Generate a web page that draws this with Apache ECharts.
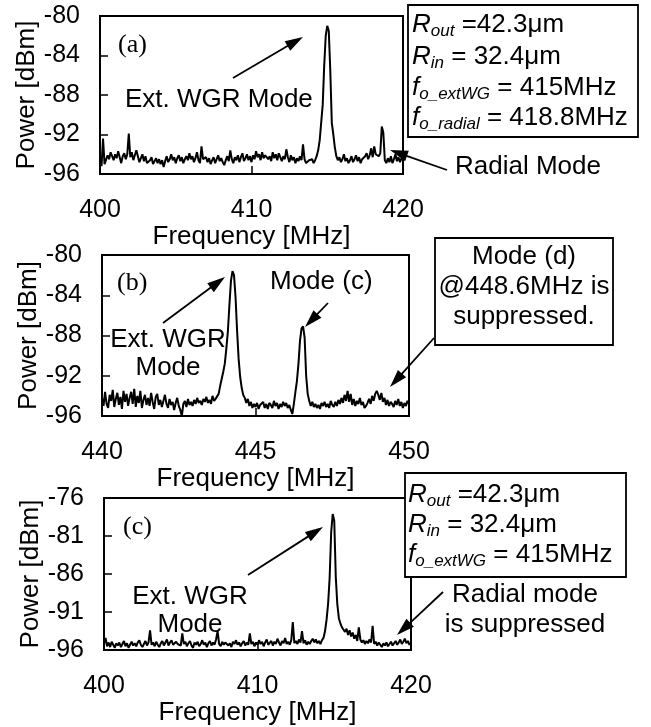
<!DOCTYPE html>
<html><head><meta charset="utf-8">
<script src="https://cdn.jsdelivr.net/npm/echarts@6/dist/echarts.min.js"></script>
<style>html,body{margin:0;padding:0;background:#fff}#c{width:651px;height:727px}</style>
</head><body><div id="c"></div>
<script>
// ---------- data ----------
const startA = 400, stepA = 0.1;       // MHz
const powerA = [
-94.6,-95.2,-92.4,-95.0,-94.8,-94.1,-94.5,-93.8,-94.2,-94.6,
-94.0,-94.4,-93.7,-94.3,-94.9,-94.2,-93.9,-94.5,-94.0,-91.9,
-94.3,-93.8,-94.6,-94.1,-93.6,-94.2,-94.8,-94.4,-94.0,-94.7,
-94.2,-94.9,-95.1,-94.6,-94.3,-95.0,-94.7,-94.4,-94.9,-94.5,
-95.0,-94.6,-95.3,-94.7,-94.2,-94.8,-94.5,-94.0,-94.6,-94.3,
-94.9,-94.4,-94.1,-94.7,-94.3,-94.9,-94.5,-94.2,-94.6,-93.9,
-94.5,-94.2,-94.8,-94.4,-93.8,-94.6,-94.9,-93.2,-94.5,-94.7,
-94.3,-94.8,-94.4,-95.0,-94.6,-94.3,-94.9,-94.5,-94.1,-94.7,
-94.4,-94.8,-95.1,-94.6,-94.2,-94.7,-93.6,-94.5,-94.9,-94.3,
-94.6,-94.1,-94.8,-94.3,-93.9,-94.7,-94.4,-94.0,-94.6,-94.2,
-94.8,-94.1,-94.5,-93.7,-94.3,-94.0,-94.6,-93.8,-94.4,-94.1,
-93.9,-94.5,-94.2,-94.7,-93.8,-94.4,-94.0,-94.6,-93.9,-94.3,
-94.7,-94.2,-94.5,-93.5,-94.3,-94.8,-94.1,-94.6,-94.3,-94.9,
-94.4,-94.7,-94.2,-94.6,-93.0,-94.5,-94.9,-95.1,-94.6,-94.8,
-94.5,-94.9,-94.6,-94.2,-93.6,-92.6,-92.8,-89.0,-85.0,-82.0,
-81.0,-81.5,-85.5,-90.8,-92.0,-93.3,-94.2,-94.6,-94.3,-94.8,
-94.5,-94.0,-94.7,-94.4,-94.9,-94.6,-94.2,-94.8,-94.5,-94.1,
-94.7,-94.3,-94.9,-94.5,-94.6,-94.2,-93.9,-94.5,-94.1,-93.4,
-94.3,-93.2,-94.0,-93.8,-94.2,-93.9,-91.2,-91.8,-94.6,-94.9,
-94.4,-94.8,-94.2,-94.9,-94.5,-94.0,-94.7,-94.3,-94.8,-94.4,-94.6
];
const startB = 440, stepB = 0.05;
const powerB = [
-94.2,-95.0,-93.6,-94.8,-95.2,-93.9,-94.5,-93.4,-95.1,-94.3,
-93.7,-94.9,-94.1,-95.3,-93.5,-94.6,-93.8,-95.0,-94.2,-93.6,
-94.8,-93.3,-95.1,-94.0,-94.7,-93.5,-95.2,-94.4,-93.9,-94.9,
-94.2,-95.0,-93.7,-94.6,-95.3,-94.1,-93.8,-94.9,-94.4,-95.1,
-94.5,-93.9,-94.8,-95.2,-94.3,-94.9,-94.6,-95.4,-94.7,-94.2,
-95.0,-95.4,-96.0,-94.8,-94.5,-95.1,-94.3,-94.9,-94.6,-95.0,
-94.4,-94.8,-94.2,-94.7,-94.5,-94.9,-94.3,-94.6,-94.1,-94.7,
-94.4,-94.8,-94.0,-94.5,-94.3,-94.3,-93.8,-93.0,-92.3,-91.6,
-90.8,-89.3,-87.6,-85.0,-82.6,-81.6,-82.0,-84.2,-87.5,-90.3,
-92.1,-93.2,-93.9,-94.2,-94.7,-94.3,-95.0,-94.6,-95.2,-94.8,
-95.1,-94.7,-95.3,-94.9,-95.0,-94.6,-95.2,-94.8,-95.3,-94.7,
-94.9,-95.2,-94.5,-95.0,-94.7,-95.3,-94.8,-95.1,-94.6,-95.0,
-94.7,-95.2,-94.9,-95.4,-95.8,-94.8,-93.6,-92.5,-90.8,-88.5,
-87.3,-87.1,-88.2,-92.0,-93.8,-94.5,-95.0,-94.6,-95.1,-94.8,
-95.2,-94.9,-95.3,-94.7,-95.0,-94.6,-95.1,-94.8,-95.2,-94.5,
-94.9,-95.1,-94.6,-95.0,-94.4,-94.8,-94.2,-94.7,-93.9,-94.5,
-93.5,-94.6,-93.8,-94.9,-94.3,-95.0,-94.5,-94.8,-94.2,-94.9,
-94.6,-95.2,-95.0,-94.7,-94.3,-94.8,-94.0,-94.5,-93.8,-93.5,
-93.9,-94.4,-93.7,-94.6,-94.2,-94.9,-94.4,-95.0,-94.6,-94.8,
-95.1,-94.5,-94.9,-94.3,-95.0,-94.6,-95.2,-94.7,-95.0,-94.5,-94.8
];
const startC = 400, stepC = 0.1;
const powerC = [
-95.2,-94.4,-95.5,-95.0,-95.6,-94.9,-95.3,-95.7,-95.1,-95.4,
-95.0,-95.6,-95.2,-94.8,-95.5,-95.1,-95.7,-95.3,-94.9,-95.4,
-95.1,-95.5,-95.0,-94.7,-95.3,-95.6,-95.2,-94.8,-95.4,-95.0,
-93.4,-95.3,-95.0,-95.5,-94.9,-95.3,-95.6,-95.1,-94.8,-95.4,
-95.2,-94.6,-95.4,-95.0,-94.7,-95.3,-95.5,-94.9,-95.2,-95.0,
-95.4,-93.8,-95.2,-94.9,-95.5,-95.1,-94.8,-95.4,-95.7,-95.0,
-95.3,-94.9,-95.5,-95.2,-94.7,-95.3,-95.0,-95.6,-95.1,-94.8,
-95.4,-95.0,-95.3,-94.6,-93.5,-95.2,-95.5,-94.9,-95.3,-95.0,
-94.8,-95.4,-95.1,-95.6,-94.9,-95.2,-94.7,-95.3,-95.0,-95.5,
-95.1,-94.8,-95.4,-95.0,-95.3,-93.8,-95.2,-94.9,-95.5,-95.0,
-95.3,-94.7,-95.2,-94.9,-95.5,-95.0,-94.6,-95.3,-95.1,-94.8,
-95.4,-94.9,-95.2,-94.5,-95.0,-95.4,-94.8,-95.1,-94.4,-95.2,
-94.9,-95.3,-94.7,-92.3,-95.1,-94.8,-95.2,-94.6,-95.0,-93.5,
-95.1,-94.7,-95.3,-94.9,-95.2,-94.8,-94.5,-95.0,-94.6,-95.1,
-94.8,-95.2,-94.7,-94.4,-93.5,-92.0,-89.9,-86.5,-80.5,-78.1,
-79.0,-86.4,-90.0,-91.8,-92.5,-93.0,-92.8,-93.6,-93.2,-94.0,
-93.4,-94.2,-93.7,-94.5,-94.0,-94.8,-93.0,-94.6,-95.0,-94.7,
-95.2,-94.8,-95.1,-94.6,-95.0,-92.8,-95.2,-94.9,-95.4,-95.0,
-95.3,-95.6,-95.1,-95.4,-95.0,-95.5,-95.2,-94.9,-95.4,-95.1,
-94.8,-95.3,-95.0,-94.6,-95.2,-94.9,-94.5,-95.1,-94.8,-95.3,-95.0
];
const xTicksA = [400, 420, 10];
const yTicksA = [-96, -80, 4];
const xTicksB = [440, 450, 5];
const yTicksB = [-96, -80, 4];
const xTicksC = [400, 420, 10];
const yTicksC = [-96, -91, -86, -81, -76];

// ---------- build ----------
function pairs(f0, step, arr){ return arr.map((v,i)=>[+(f0+i*step).toFixed(3), v]); }
const SANS = '"Liberation Sans", Arial, sans-serif';
const SERIF = '"Liberation Serif", "Times New Roman", serif';
const grids = [
  {left:100, top:16, width:303, height:158},
  {left:102, top:255, width:307, height:161},
  {left:104, top:498, width:307, height:154}
];
function xAxis(i, t, nameGap){
  return {type:'value', gridIndex:i, min:t[0], max:t[1], interval:t[2],
    name:'Frequency [MHz]', nameLocation:'middle', nameGap:nameGap,
    nameTextStyle:{fontFamily:SANS, fontSize:26, color:'#000'},
    axisLine:{show:true, onZero:false, lineStyle:{color:'#000', width:2}},
    axisTick:{show:true, inside:true, length:8, lineStyle:{color:'#000', width:1.5}},
    axisLabel:{fontFamily:SANS, fontSize:25, color:'#000', margin:24},
    splitLine:{show:false}};
}
function yAxis(i, t, nameGap, custom){
  const a = {type:'value', gridIndex:i,
    name:'Power [dBm]', nameLocation:'middle', nameGap:nameGap,
    nameTextStyle:{fontFamily:SANS, fontSize:26, color:'#000'},
    axisLine:{show:true, onZero:false, lineStyle:{color:'#000', width:2}},
    axisTick:{show:true, inside:true, length:8, lineStyle:{color:'#000', width:1.5}},
    axisLabel:{fontFamily:SANS, fontSize:25, color:'#000', margin:20},
    splitLine:{show:false}};
  if (custom){ a.min = custom[0]; a.max = custom[custom.length-1];
    a.axisLabel.customValues = custom; a.axisTick.customValues = custom; }
  else { a.min = t[0]; a.max = t[1]; a.interval = t[2]; }
  return a;
}
function series(i, data){
  return {type:'line', xAxisIndex:i, yAxisIndex:i, data:data, showSymbol:false,
    symbol:'none', lineStyle:{color:'#000', width:2}, silent:true, animation:false};
}
function txt(x, y, s, opt){
  opt = opt || {};
  return {type:'text', x:x, y:y, z:100, style:Object.assign({text:s, fill:'#000',
    font:(opt.size||26)+'px '+(opt.font||SANS), align:opt.align||'left', verticalAlign:'middle',
    textAlign:opt.align||'left', textVerticalAlign:'middle'}, opt.style||{})};
}
function arrow(x1,y1,x2,y2){
  const L=18, W=5.5, dx=x2-x1, dy=y2-y1, len=Math.hypot(dx,dy), ux=dx/len, uy=dy/len;
  const bx=x2-ux*L, by=y2-uy*L;
  return [
    {type:'line', z:100, shape:{x1:x1,y1:y1,x2:bx+ux*2,y2:by+uy*2}, style:{stroke:'#000', lineWidth:1.8}},
    {type:'polygon', z:100, shape:{points:[[x2,y2],[bx-uy*W,by+ux*W],[bx+uy*W,by-ux*W]]}, style:{fill:'#000'}}
  ];
}
function box(x1,y1,x2,y2){
  return {type:'rect', z:90, shape:{x:x1,y:y1,width:x2-x1,height:y2-y1},
    style:{fill:'#fff', stroke:'#000', lineWidth:1.8}};
}
const rich = {
  i:{fontFamily:SANS, fontSize:26, fontStyle:'italic', lineHeight:30},
  s:{fontFamily:SANS, fontSize:17, fontStyle:'italic', lineHeight:20, verticalAlign:'bottom'},
  n:{fontFamily:SANS, fontSize:26, lineHeight:30}
};
function rtxt(x, y, s){
  return {type:'text', x:x, y:y, z:100, style:{text:s, rich:rich, fill:'#000',
    font:'26px '+SANS, align:'left', verticalAlign:'middle', textAlign:'left', textVerticalAlign:'middle'}};
}
const graphics = [].concat(
  // panel (a)
  [txt(118,45,'(a)',{font:SERIF}), txt(125,100,'Ext. WGR Mode')], arrow(233,78,303,37),
  [box(408,5,638,137),
   rtxt(412,25,'{i|R}{s|out}{n| =42.3μm}'),
   rtxt(412,57,'{i|R}{s|in}{n| = 32.4μm}'),
   rtxt(412,88,'{i|f}{s|o_extWG}{n| = 415MHz}'),
   rtxt(412,118,'{i|f}{s|o_radial}{n| = 418.8MHz}'),
   txt(455,167,'Radial Mode')], arrow(447,170,390,150),
  // panel (b)
  [txt(117,283,'(b)',{font:SERIF}), txt(270,282,'Mode (c)'),
   txt(168,340,'Ext. WGR',{align:'center'}), txt(168,368,'Mode',{align:'center'})],
  arrow(328,303,305,327), arrow(163,323,225,277),
  [box(435,238,613,345), txt(524,257,'Mode (d)',{align:'center'}),
   txt(524,287,'@448.6MHz is',{align:'center'}), txt(524,317,'suppressed.',{align:'center'})],
  arrow(434,338,390,387),
  // panel (c)
  [txt(123,527,'(c)',{font:SERIF}), txt(190,597,'Ext. WGR',{align:'center'}), txt(190,625,'Mode',{align:'center'})],
  arrow(248,575,323,527),
  [box(405,473,626,577),
   rtxt(408,495,'{i|R}{s|out}{n| =42.3μm}'),
   rtxt(408,525,'{i|R}{s|in}{n| = 32.4μm}'),
   rtxt(408,555,'{i|f}{s|o_extWG}{n| = 415MHz}'),
   txt(525,595,'Radial mode',{align:'center'}), txt(525,625,'is suppressed',{align:'center'})],
  arrow(443,592,397,635)
);
const chart = echarts.init(document.getElementById('c'), null, {renderer:'canvas'});
chart.setOption({
  animation:false,
  backgroundColor:'#fff',
  grid: grids.map(g=>Object.assign({show:true, borderColor:'#000', borderWidth:2, backgroundColor:'transparent'}, g)),
  xAxis:[xAxis(0,xTicksA,50), xAxis(1,xTicksB,43), xAxis(2,xTicksC,43)],
  yAxis:[yAxis(0,yTicksA,57), yAxis(1,yTicksB,57), yAxis(2,null,54,yTicksC)],
  series:[series(0,pairs(startA,stepA,powerA)), series(1,pairs(startB,stepB,powerB)), series(2,pairs(startC,stepC,powerC))],
  graphic: graphics
});
</script></body></html>
